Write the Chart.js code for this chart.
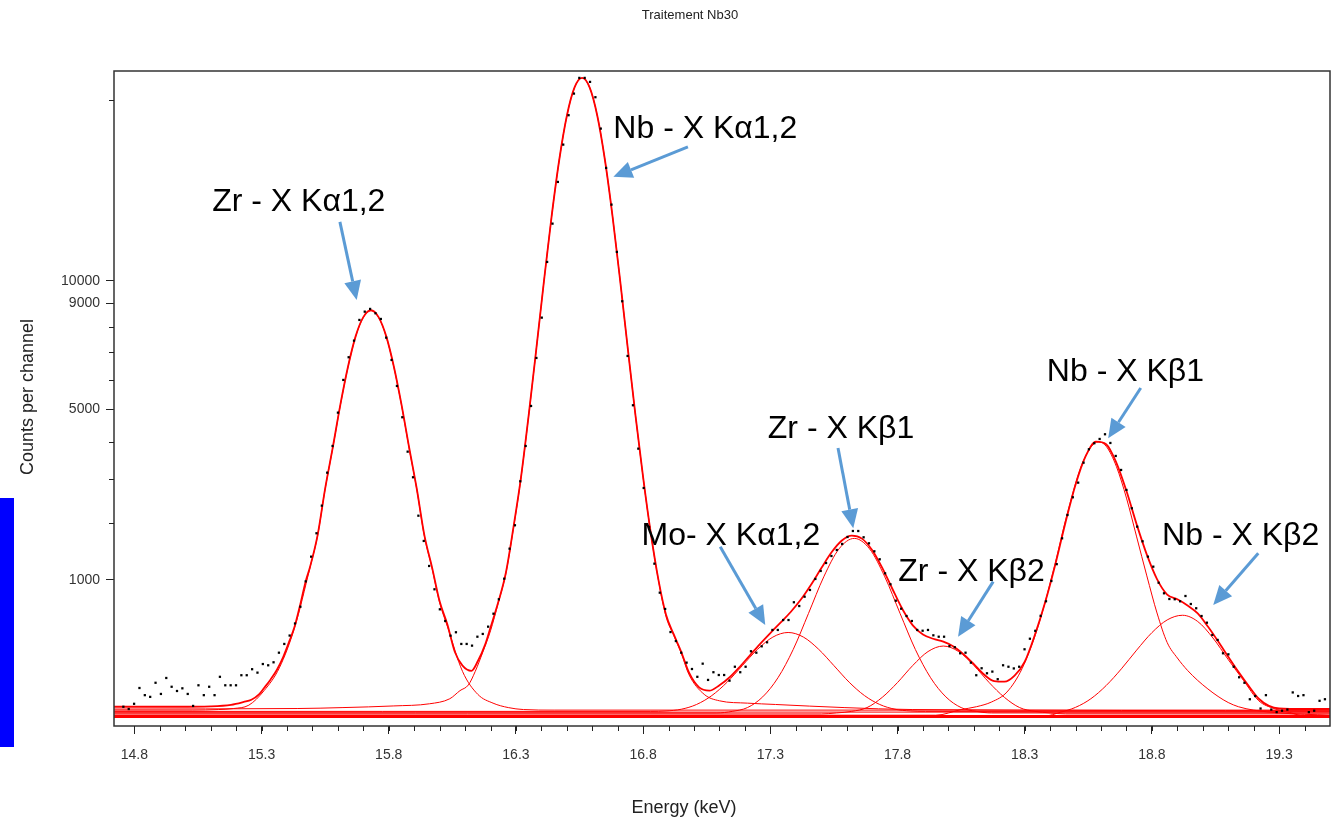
<!DOCTYPE html>
<html>
<head>
<meta charset="utf-8">
<title>Traitement Nb30</title>
<script src="https://cdn.jsdelivr.net/npm/chart.js@4.4.1/dist/chart.umd.min.js"></script>
<style>
  html, body { margin: 0; padding: 0; background: #fff; }
  #wrap { width: 1339px; height: 821px; }
</style>
</head>
<body>
<div id="wrap"><canvas id="spectrum" width="1339" height="821"></canvas></div>
<script>
// measured spectrum: counts per channel, channel 0 starts at CH0 keV, CHW keV wide
const CH0 = 14.7568;
const CHW = 0.021086;
const measuredCounts = [
  7, 4.5, 11, 48, 28, 24, 66, 31, 85, 52, 39, 47, 31, 8, 57,
  28, 52, 28, 90, 57, 57, 57, 97, 97, 126, 109, 154, 147, 164, 225,
  289, 358, 470, 651, 981, 1366, 1790, 2364, 3154, 3877, 4884, 5985, 6815, 7456, 8296,
  8645, 8761, 8577, 8337, 7575, 6713, 5774, 4738, 3717, 3037, 2146, 1644, 1213, 870, 621,
  495, 357, 387, 289, 289, 276, 348, 372, 439, 572, 741, 1019, 1504, 1948, 2937,
  3877, 5100, 6788, 8392, 10887, 12792, 15040, 17205, 19014, 20401, 21439, 21439, 21173, 20166, 18179,
  15836, 13794, 11370, 9093, 6864, 5123, 3801, 2773, 1914, 1250, 825, 625, 389, 312, 225,
  162, 127, 90, 156, 77, 111, 98, 98, 74, 139, 111, 139, 235, 225, 271,
  302, 408, 408, 505, 505, 704, 659, 773, 861, 1015, 1135, 1261, 1377, 1481, 1589,
  1719, 1834, 1834, 1713, 1601, 1458, 1322, 1099, 939, 723, 628, 547, 495, 408, 401,
  408, 360, 348, 348, 273, 264, 221, 225, 162, 97, 131, 106, 114, 80, 147,
  139, 130, 139, 249, 331, 400, 549, 716, 986, 1242, 1694, 2161, 2554, 2903, 3416,
  3784, 3955, 4079, 4218, 3963, 3598, 3224, 2726, 2306, 1920, 1638, 1366, 1202, 961, 817,
  744, 741, 716, 782, 683, 633, 547, 478, 363, 321, 221, 214, 139, 88, 66,
  19, 26, 5, 28, 4, 2, 3, 4, 35, 26, 28, 2, 3, 16, 19
];

// fitted curves, [keV, counts]
const totalFit = [
  [14.72, 7], [14.84, 7], [14.97, 7], [15.10, 7.5], [15.18, 9.5], [15.23, 14], [15.26, 18], [15.29, 30],
  [15.31, 48], [15.335, 78], [15.36, 122], [15.385, 196], [15.41, 315], [15.43, 440], [15.45, 650], [15.474, 986],
  [15.49, 1190], [15.52, 1745], [15.55, 2760], [15.58, 3835], [15.61, 5150], [15.64, 6470], [15.67, 7635], [15.70, 8415],
  [15.73, 8705], [15.76, 8415], [15.79, 7635], [15.82, 6470], [15.85, 5150], [15.88, 3840], [15.91, 2760], [15.94, 1755],
  [15.97, 1195], [16.00, 715], [16.03, 465], [16.06, 230], [16.09, 145], [16.125, 118], [16.15, 170], [16.18, 290],
  [16.20, 430], [16.23, 700], [16.26, 1100], [16.29, 1900], [16.32, 3040], [16.35, 4800], [16.38, 7125], [16.41, 9980],
  [16.44, 13145], [16.47, 16280], [16.50, 18965], [16.53, 20790], [16.56, 21435], [16.59, 20790], [16.62, 18965], [16.65, 16280],
  [16.68, 13145], [16.71, 9980], [16.74, 7125], [16.77, 4790], [16.80, 3035], [16.83, 1795], [16.86, 1005], [16.89, 560],
  [16.92, 370], [16.95, 230], [16.98, 110], [17.02, 50], [17.06, 40], [17.10, 57], [17.14, 88], [17.18, 139],
  [17.22, 208], [17.26, 290], [17.30, 380], [17.34, 478], [17.38, 591], [17.42, 737], [17.46, 933], [17.50, 1176],
  [17.54, 1436], [17.58, 1648], [17.62, 1746], [17.66, 1688], [17.70, 1480], [17.74, 1183], [17.78, 874], [17.82, 619],
  [17.86, 452], [17.90, 367], [17.94, 331], [17.98, 307], [18.02, 270], [18.06, 214], [18.10, 153], [18.14, 100],
  [18.18, 72], [18.22, 70], [18.26, 95], [18.30, 168], [18.34, 365], [18.38, 700], [18.42, 1232], [18.46, 1999],
  [18.50, 2858], [18.54, 3600], [18.58, 4000], [18.62, 3927], [18.66, 3420], [18.70, 2700], [18.74, 1966], [18.78, 1400],
  [18.82, 1013], [18.86, 800], [18.90, 740], [18.94, 665], [18.98, 575], [19.02, 440], [19.06, 310], [19.10, 198],
  [19.14, 113], [19.18, 55], [19.22, 20], [19.26, 8], [19.30, 5], [19.40, 4.5], [19.50, 4.5]
];

const zrKaFit = [
  [14.72, 3.5], [15.03, 3.5], [15.13, 4], [15.19, 5], [15.25, 9], [15.31, 40], [15.37, 133], [15.43, 430],
  [15.49, 1180], [15.52, 1735], [15.55, 2750], [15.58, 3820], [15.61, 5135], [15.64, 6455], [15.67, 7620], [15.70, 8400],
  [15.73, 8690], [15.76, 8400], [15.79, 7620], [15.82, 6455], [15.85, 5135], [15.88, 3820], [15.91, 2750], [15.94, 1735],
  [15.97, 1180], [16.00, 700], [16.03, 445], [16.09, 115], [16.15, 30], [16.21, 12], [16.27, 6], [16.33, 4],
  [16.45, 3.5], [19.50, 3.5]
];

const nbKaFit = [
  [14.72, 4.5], [15.44, 5], [15.62, 6], [15.82, 8], [15.96, 11], [16.04, 20], [16.08, 40], [16.113, 58],
  [16.14, 115], [16.17, 230], [16.20, 400], [16.23, 690], [16.26, 1090], [16.29, 1880], [16.32, 3030], [16.35, 4790],
  [16.38, 7120], [16.41, 9976], [16.44, 13140], [16.47, 16276], [16.50, 18960], [16.53, 20785], [16.56, 21430], [16.59, 20785],
  [16.62, 18960], [16.65, 16276], [16.68, 13140], [16.71, 9976], [16.74, 7120], [16.77, 4787], [16.80, 3030], [16.83, 1787],
  [16.86, 1000], [16.89, 540], [16.92, 360], [16.95, 220], [16.98, 100], [17.04, 30], [17.10, 16], [17.21, 12],
  [17.32, 10], [17.59, 6], [17.86, 4], [19.50, 3]
];

const moKaFit = [
  [14.72, 2.5], [16.83, 2.5], [16.89, 2.8], [16.95, 4.3], [17.01, 10], [17.07, 27], [17.13, 68], [17.19, 145],
  [17.25, 249], [17.31, 345], [17.37, 385], [17.43, 345], [17.49, 249], [17.55, 145], [17.61, 68], [17.67, 27],
  [17.73, 10], [17.79, 4.3], [17.85, 2.8], [17.91, 2.5], [19.50, 2.5]
];

const zrKb1Fit = [
  [14.72, 1.5], [17.09, 1.5], [17.15, 2.5], [17.21, 6], [17.27, 24], [17.33, 86], [17.39, 248], [17.45, 575],
  [17.51, 1046], [17.57, 1501], [17.63, 1692], [17.69, 1501], [17.75, 1046], [17.81, 575], [17.87, 248], [17.93, 86],
  [17.99, 24], [18.05, 6], [18.11, 2.5], [18.17, 1.5], [19.50, 1.5]
];

const zrKb2Fit = [
  [14.72, 1], [17.50, 1], [17.56, 1.5], [17.62, 2.5], [17.68, 6], [17.74, 23], [17.80, 67], [17.86, 146],
  [17.92, 233], [17.98, 273], [18.04, 233], [18.10, 146], [18.16, 67], [18.22, 23], [18.28, 6], [18.34, 2.5],
  [18.40, 1.5], [18.46, 1], [19.50, 1]
];

const nbKb1Fit = [
  [14.72, 0.5], [17.95, 0.5], [18.05, 4], [18.11, 7], [18.17, 14], [18.23, 36], [18.29, 130], [18.35, 420],
  [18.41, 1100], [18.47, 2250], [18.53, 3460], [18.59, 3994], [18.62, 3870], [18.66, 3320], [18.70, 2535], [18.74, 1720],
  [18.78, 1060], [18.82, 580], [18.86, 300], [18.90, 190], [18.94, 120], [18.98, 75], [19.02, 45], [19.06, 25],
  [19.10, 13], [19.14, 7], [19.20, 3.5], [19.30, 1.5], [19.50, 0.5]
];

const nbKb2Fit = [
  [14.72, 0.3], [18.38, 0.3], [18.44, 1.9], [18.50, 6.3], [18.56, 20], [18.62, 56], [18.68, 128], [18.74, 243],
  [18.80, 384], [18.86, 506], [18.92, 555], [18.98, 490], [19.04, 337], [19.10, 180], [19.16, 75], [19.22, 16],
  [19.28, 5], [19.34, 1.8], [19.40, 0.3], [19.50, 0.3]
];

const backgroundA = [[14.72, 2], [19.50, 2]];
const backgroundB = [[14.72, 0.15], [19.50, 0.15]];

// axis ticks
const xTickValues = [14.8, 15.3, 15.8, 16.3, 16.8, 17.3, 17.8, 18.3, 18.8, 19.3];
const yTickCounts = [1000, 5000, 9000, 10000];
const yMinorCounts = [2000, 3000, 4000, 6000, 7000, 8000, 20000];

// annotations: label, text left-middle [keV, counts], arrow tail, arrow head
const peakLabels = ['Zr - X K\u03b11,2', 'Nb - X K\u03b11,2', 'Mo- X K\u03b11,2', 'Zr - X K\u03b21', 'Zr - X K\u03b22', 'Nb - X K\u03b21', 'Nb - X K\u03b22'];
const labelAt = [[15.106, 14047], [16.683, 18284], [16.794, 1795], [17.290, 4437], [17.803, 1150], [18.387, 6344], [18.840, 1790]];
const arrowTail = [[15.608, 12882], [16.976, 17070], [17.103, 1540], [17.566, 3820], [18.176, 976], [18.756, 5705], [19.218, 1424]];
const arrowHead = [[15.674, 9149], [16.683, 15325], [17.280, 455], [17.626, 1888], [18.038, 348], [18.628, 4100], [19.041, 671]];

const FONT = '"Liberation Sans", Arial, sans-serif';
const RED = '#ff0000';
const ARROW_BLUE = '#5b9bd5';

// counts are drawn on a square-root axis
const toPoints = pairs => pairs.map(([e, c]) => ({ x: e, y: Math.sqrt(c) }));
const fitLine = (data, width, order) => ({
  type: 'line', data: toPoints(data), borderColor: RED, borderWidth: width,
  pointRadius: 0, cubicInterpolationMode: 'monotone', order: order
});

const overlay = {
  id: 'overlay',
  afterDraw(chart) {
    const ctx = chart.ctx;
    const xs = chart.scales.x, ys = chart.scales.y;
    const a = chart.chartArea;
    ctx.save();

    // frame
    ctx.strokeStyle = '#333';
    ctx.lineWidth = 1.5;
    ctx.strokeRect(a.left, a.top, a.right - a.left, a.bottom - a.top);

    // minor ticks
    ctx.lineWidth = 1;
    ctx.strokeStyle = '#222';
    ctx.beginPath();
    for (let v = 14.8; v < 19.45; v += 0.1) {
      const px = Math.round(xs.getPixelForValue(v)) + 0.5;
      ctx.moveTo(px, a.bottom);
      ctx.lineTo(px, a.bottom + 5);
    }
    yMinorCounts.forEach(c => {
      const py = Math.round(ys.getPixelForValue(Math.sqrt(c))) + 0.5;
      ctx.moveTo(a.left - 5, py);
      ctx.lineTo(a.left, py);
    });
    ctx.stroke();

    // titles
    ctx.fillStyle = '#222';
    ctx.textAlign = 'center';
    ctx.textBaseline = 'middle';
    ctx.font = '13px ' + FONT;
    ctx.fillText('Traitement Nb30', 690, 15);
    ctx.font = '18px ' + FONT;
    ctx.fillText('Energy (keV)', 684, 808);
    ctx.save();
    ctx.translate(28, 397);
    ctx.rotate(-Math.PI / 2);
    ctx.fillText('Counts per channel', 0, 0);
    ctx.restore();

    // peak labels with arrows
    ctx.font = '32px ' + FONT;
    ctx.textAlign = 'left';
    ctx.textBaseline = 'alphabetic';
    ctx.fillStyle = '#000';
    peakLabels.forEach((txt, i) => {
      const tx = xs.getPixelForValue(labelAt[i][0]);
      const ty = ys.getPixelForValue(Math.sqrt(labelAt[i][1]));
      ctx.fillText(txt, tx, ty + 11.5);
    });
    ctx.strokeStyle = ARROW_BLUE;
    ctx.fillStyle = ARROW_BLUE;
    ctx.lineWidth = 3;
    peakLabels.forEach((txt, i) => {
      const x1 = xs.getPixelForValue(arrowTail[i][0]);
      const y1 = ys.getPixelForValue(Math.sqrt(arrowTail[i][1]));
      const x2 = xs.getPixelForValue(arrowHead[i][0]);
      const y2 = ys.getPixelForValue(Math.sqrt(arrowHead[i][1]));
      const ang = Math.atan2(y2 - y1, x2 - x1);
      const hl = 19, hw = 8.5;
      const bx = x2 - hl * Math.cos(ang), by = y2 - hl * Math.sin(ang);
      ctx.beginPath();
      ctx.moveTo(x1, y1);
      ctx.lineTo(bx, by);
      ctx.stroke();
      ctx.beginPath();
      ctx.moveTo(x2, y2);
      ctx.lineTo(bx + hw * Math.sin(ang), by - hw * Math.cos(ang));
      ctx.lineTo(bx - hw * Math.sin(ang), by + hw * Math.cos(ang));
      ctx.closePath();
      ctx.fill();
    });

    // blue strip at the left edge of the screenshot
    ctx.fillStyle = '#0000ff';
    ctx.fillRect(0, 498, 14, 249);
    ctx.restore();
  }
};

new Chart(document.getElementById('spectrum'), {
  type: 'line',
  data: {
    datasets: [
      {
        type: 'scatter',
        data: measuredCounts.map((c, i) => ({ x: CH0 + i * CHW, y: Math.sqrt(c) })),
        pointStyle: 'rect', pointRadius: 1.6, borderWidth: 0,
        backgroundColor: '#000', showLine: false, order: 0
      },
      fitLine(totalFit, 1.8, 1),
      fitLine(zrKaFit, 1, 2),
      fitLine(nbKaFit, 1, 2),
      fitLine(moKaFit, 1, 2),
      fitLine(zrKb1Fit, 1, 2),
      fitLine(zrKb2Fit, 1, 2),
      fitLine(nbKb1Fit, 1, 2),
      fitLine(nbKb2Fit, 1, 2),
      fitLine(backgroundA, 1, 3),
      fitLine(backgroundB, 3, 3)
    ]
  },
  options: {
    responsive: false,
    animation: false,
    devicePixelRatio: 1,
    events: [],
    layout: { padding: { left: 0, right: 9, top: 71, bottom: 0 } },
    plugins: { legend: { display: false }, tooltip: { enabled: false }, title: { display: false } },
    scales: {
      x: {
        type: 'linear', min: 14.72, max: 19.5,
        afterFit: s => { s.height = 95; },
        afterBuildTicks: s => { s.ticks = xTickValues.map(v => ({ value: v })); },
        grid: { drawOnChartArea: false, tickLength: 8, tickColor: '#222', tickWidth: 1 },
        border: { display: false },
        ticks: {
          autoSkip: false, maxRotation: 0, padding: 13, color: '#333',
          font: { family: FONT, size: 14 },
          callback: v => v.toFixed(1)
        }
      },
      y: {
        type: 'linear', min: -1.76, max: 148.0,
        afterFit: s => { s.width = 114; },
        afterBuildTicks: s => { s.ticks = yTickCounts.map(c => ({ value: Math.sqrt(c) })); },
        grid: { drawOnChartArea: false, tickLength: 8, tickColor: '#222', tickWidth: 1 },
        border: { display: false },
        ticks: {
          autoSkip: false, padding: 6, color: '#333',
          font: { family: FONT, size: 14 },
          callback: v => String(Math.round(v * v))
        }
      }
    }
  },
  plugins: [overlay]
});
</script>
</body>
</html>
